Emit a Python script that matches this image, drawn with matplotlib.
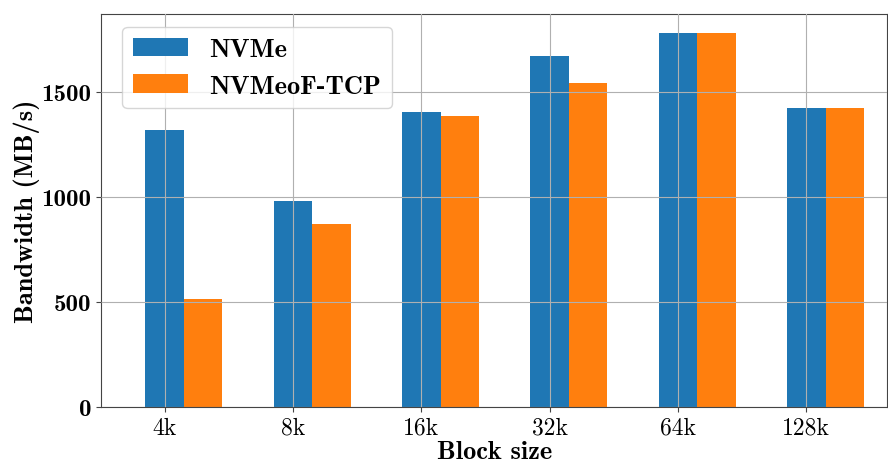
import numpy as np
import matplotlib
matplotlib.use('Agg')
import matplotlib.pyplot as plt

block_sizes = ['4k', '8k', '16k', '32k', '64k', '128k']
nvme = [1316, 981, 1401, 1671, 1781, 1424]
nvmeof_tcp = [513, 871, 1382, 1540, 1781, 1422]

plt.rcParams['font.family'] = 'cmr10'
plt.rcParams['mathtext.fontset'] = 'cm'
plt.rcParams['axes.unicode_minus'] = False

fig, ax = plt.subplots(figsize=(8.88, 4.64), dpi=100)
x = np.arange(len(block_sizes))
w = 0.3
ax.bar(x, nvme, w, color='#1f77b4', label='NVMe')
ax.bar(x + w, nvmeof_tcp, w, color='#ff7f0e', label='NVMeoF-TCP')

ax.set_axisbelow(False)
ax.grid(True, color='#b0b0b0', linewidth=0.8)
ax.set_xticks(x)
ax.set_xticklabels(block_sizes, fontsize=17)
ax.set_yticks([0, 500, 1000, 1500])
ax.set_yticklabels(['0', '500', '1000', '1500'], family='cmb10', fontsize=18)
ax.set_xlim(-0.495, 5.63)
for s in ax.spines.values():
    s.set_color('#444444')
ax.tick_params(color='#444444')

ax.set_xlabel('Block size', fontsize=19, family='cmb10', labelpad=1)
ax.set_ylabel('Bandwidth (MB/s)', fontsize=19, family='cmb10', labelpad=1)
ax.legend(loc='upper left', bbox_to_anchor=(0.01, 1.0),
          prop={'family': 'cmb10', 'size': 19},
          handlelength=2.1, borderaxespad=0.5)

plt.subplots_adjust(left=0.114, right=0.999, top=0.968, bottom=0.121)
plt.savefig('out.png')
